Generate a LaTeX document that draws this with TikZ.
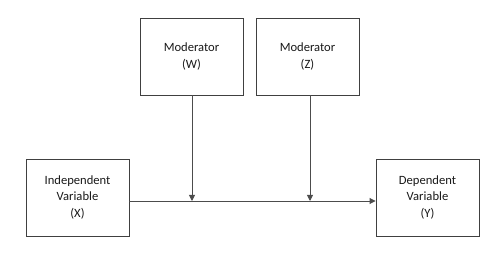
\documentclass[tikz,border=0pt]{standalone}
\usepackage{fontspec}
\setmainfont{Carlito}
\usetikzlibrary{arrows.meta}
\begin{document}
\begin{tikzpicture}[x=1pt,y=-1pt,
  box/.style={draw=black!75, line width=0.9pt, minimum width=103pt, minimum height=77pt, inner sep=0pt, align=center, font=\fontsize{12.6}{16.4}\selectfont, text=black!90},
  conn/.style={draw=black!70, line width=0.9pt, -{Triangle[length=6pt,width=6pt]}}]
\useasboundingbox (0,0) rectangle (500,272);
\node[box] (w) at (191.5,56.5) {Moderator\\(W)};
\node[box] (z) at (307.5,56.5) {Moderator\\(Z)};
\node[box] (x) at (77.5,197.5) {Independent\\Variable\\(X)};
\node[box] (y) at (427.5,197.5) {Dependent\\Variable\\(Y)};
\coordinate (pw) at (192,201);
\coordinate (pz) at (310,201);
\draw[conn] (x.east |- pw) -- (y.west |- pw);
\draw[conn] (w.south -| pw) -- (pw);
\draw[conn] (z.south -| pz) -- (pz);
\end{tikzpicture}
\end{document}
